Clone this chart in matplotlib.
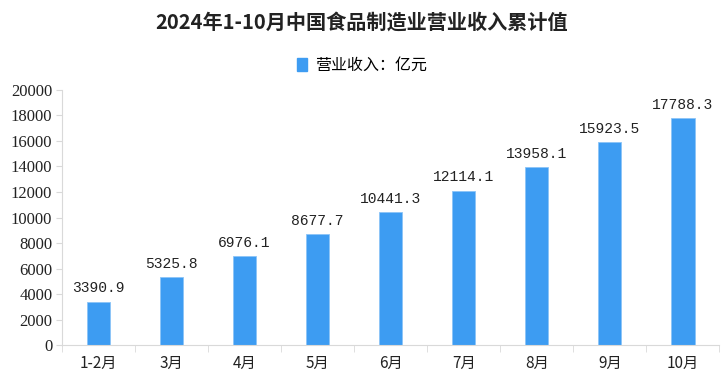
import matplotlib.pyplot as plt
from matplotlib.patches import Patch

plt.rcParams['font.family'] = ['Noto Sans CJK SC', 'DejaVu Sans']

# Data
months = ['1-2月', '3月', '4月', '5月', '6月', '7月', '8月', '9月', '10月']
revenue = [3390.9, 5325.8, 6976.1, 8677.7, 10441.3, 12114.1, 13958.1, 15923.5, 17788.3]
yticks = list(range(0, 20001, 2000))

bar_color = '#3d9cf2'
axis_color = '#d9d9d9'

fig = plt.figure(figsize=(7.24, 3.86), dpi=100)
ax = fig.add_axes([0.0856, 0.106, 0.908, 0.661])

x = list(range(len(months)))
ax.bar(x, revenue, width=0.32, color=bar_color, edgecolor='#8cc4f7', linewidth=0.6, zorder=2)

# value labels above bars
for xi, v in zip(x, revenue):
    ax.text(xi, v + 500, f'{v:.1f}', ha='center', va='bottom', fontsize=10.5,
            family=['Liberation Mono', 'DejaVu Sans'], color='#222222')

ax.set_xlim(-0.5, len(months) - 0.5)
ax.set_ylim(0, 20000)
ax.set_yticks(yticks)
ax.set_yticklabels([str(t) for t in yticks], fontsize=12, color='#222222',
                   family=['Liberation Serif', 'DejaVu Sans'])
ax.set_xticks(x)
ax.set_xticklabels(months, fontsize=11, color='#222222')

# category separators on x-axis
ax.set_xticks([i + 0.5 for i in range(-1, len(months))], minor=True)
ax.tick_params(axis='x', which='major', length=0, pad=7)
ax.tick_params(axis='x', which='minor', length=5, color=axis_color, direction='out')
ax.tick_params(axis='y', length=4, color=axis_color, pad=3)

for side in ['top', 'right']:
    ax.spines[side].set_visible(False)
ax.spines['left'].set_color(axis_color)
ax.spines['bottom'].set_color(axis_color)

fig.text(0.5, 0.943, '2024年1-10月中国食品制造业营业收入累计值', ha='center', va='center',
         fontsize=14.5, fontweight='bold', color='#222222')

fig.legend(handles=[Patch(color=bar_color)], labels=['营业收入：亿元'], loc='center',
           bbox_to_anchor=(0.5, 0.83), frameon=False, fontsize=11.5,
           handlelength=0.6, handleheight=0.9, handletextpad=0.5)

fig.savefig('out.png', dpi=100)
